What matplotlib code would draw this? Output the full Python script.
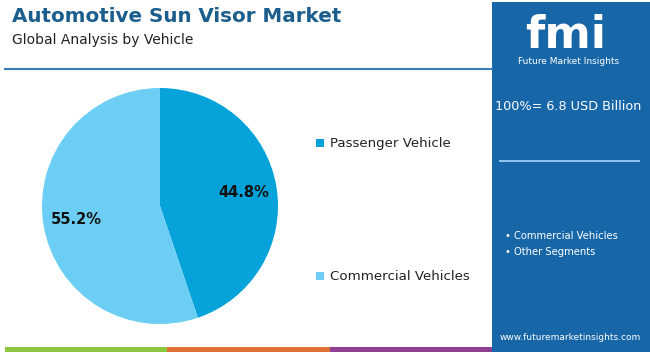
import matplotlib.pyplot as plt
from matplotlib.patches import Rectangle

# data
segments = ["Passenger Vehicle", "Commercial Vehicles"]
shares = [44.8, 55.2]
slice_colors = ["#05A3DA", "#6CCEF4"]
total_label = "100%= 6.8 USD Billion"
panel_items = ["Commercial Vehicles", "Other Segments"]

W, H = 650, 352
fig = plt.figure(figsize=(W / 100, H / 100), dpi=100)
fig.patch.set_facecolor("white")


def fx(px):
    return px / W


def fy(py):
    return 1 - py / H


# header
fig.text(fx(12), fy(17), "Automotive Sun Visor Market", fontsize=14.3,
         fontweight="bold", color="#1B5E8E", va="center", ha="left")
fig.text(fx(12), fy(40), "Global Analysis by Vehicle", fontsize=10,
         color="#222222", va="center", ha="left")
fig.add_artist(plt.Line2D([fx(5), fx(492)], [fy(69), fy(69)],
                          color="#3A7DB5", linewidth=1.5))

# pie
r = 118
cx, cy = 160, 206
ax = fig.add_axes([fx(cx - r), fy(cy + r), 2 * r / W, 2 * r / H])
wedges, texts, autotexts = ax.pie(
    shares,
    colors=slice_colors,
    startangle=90,
    counterclock=False,
    autopct="%.1f%%",
    pctdistance=0.72,
    wedgeprops=dict(linewidth=0),
    textprops=dict(fontsize=10.5, fontweight="bold", color="#111111"),
)
ax.set_xlim(-1, 1)
ax.set_ylim(-1, 1)
ax.set_aspect("equal")
ax.axis("off")

# legend
legend_y = [143, 276]
for name, col, ly in zip(segments, slice_colors, legend_y):
    fig.add_artist(Rectangle((fx(316), fy(ly + 4)), 8 / W, 8 / H,
                             facecolor=col, edgecolor="none"))
    fig.text(fx(330), fy(ly), name, fontsize=9.6, color="#222222",
             va="center", ha="left")

# right panel
panel = "#1766A8"
fig.add_artist(Rectangle((fx(492), 0), (W - 492) / W, 1 - 2 / H,
                         facecolor=panel, edgecolor="none"))
fig.text(fx(566), fy(36), "fmi", fontsize=32, fontweight="bold",
         color="white", ha="center", va="center")
fig.text(fx(569), fy(61), "Future Market Insights", fontsize=6.5,
         color="white", ha="center", va="center")
fig.text(fx(568), fy(107), total_label, fontsize=9.2, color="white",
         ha="center", va="center")
fig.add_artist(plt.Line2D([fx(500), fx(639)], [fy(161), fy(161)],
                          color="#8CC4EC", linewidth=1.5))
for i, item in enumerate(panel_items):
    fig.text(fx(505), fy(236 + 16 * i), "\u2022 " + item, fontsize=7.2,
             color="white", ha="left", va="center")
fig.text(fx(570), fy(337), "www.futuremarketinsights.com", fontsize=6.5,
         color="white", ha="center", va="center")

# bottom stripes
stripe_colors = ["#8DC63F", "#E0703A", "#8E3F91"]
for i, c in enumerate(stripe_colors):
    fig.add_artist(Rectangle((fx(5 + 162.3 * i), 0), 162.3 / W, 5 / H,
                             facecolor=c, edgecolor="none"))

fig.savefig("out.png", dpi=100)
